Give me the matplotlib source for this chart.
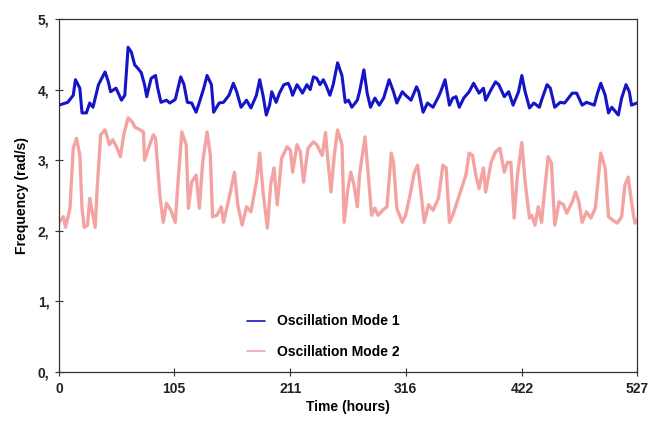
import matplotlib
matplotlib.use("Agg")
import matplotlib.pyplot as plt

# Time stamps (hours) and frequencies (rad/s) of the two oscillation modes
mode1_hours = [0, 8, 13, 15, 19, 21, 25, 28, 31, 36, 42, 45, 47, 52, 57, 60, 63, 66, 69, 72,
               75, 78, 80, 84, 88, 90, 93, 98, 101, 106, 111, 114, 117, 121, 125, 128, 132, 135,
               139, 141, 146, 150, 155, 159, 162, 166, 171, 175, 180, 183, 186, 189, 192, 194,
               198, 201, 205, 209, 211, 213, 217, 220, 222, 226, 229, 232, 235, 238, 241, 244,
               247, 250, 254, 258, 261, 264, 267, 272, 274, 278, 281, 284, 288, 292, 296, 301,
               305, 308, 313, 316, 321, 326, 328, 332, 336, 341, 346, 348, 352, 356, 359, 362,
               365, 369, 374, 378, 383, 387, 389, 394, 398, 401, 406, 410, 414, 419, 422, 425,
               429, 433, 438, 440, 445, 448, 452, 457, 461, 468, 472, 477, 481, 488, 491, 494,
               498, 501, 504, 510, 513, 517, 520, 522, 527]
mode1_freq = [3.78, 3.82, 3.92, 4.14, 4.02, 3.67, 3.67, 3.81, 3.75, 4.07, 4.25, 4.11, 3.97, 4.02,
              3.85, 3.92, 4.60, 4.53, 4.35, 4.30, 4.24, 4.07, 3.90, 4.16, 4.20, 4.02, 3.82, 3.85,
              3.81, 3.86, 4.18, 4.07, 3.82, 3.81, 3.68, 3.82, 4.02, 4.20, 4.07, 3.68, 3.81, 3.82,
              3.92, 4.09, 3.97, 3.75, 3.85, 3.74, 3.92, 4.14, 3.92, 3.64, 3.78, 3.97, 3.82, 3.95,
              4.07, 4.09, 4.02, 3.92, 4.07, 4.00, 3.95, 4.07, 4.00, 4.18, 4.16, 4.07, 4.14, 4.04,
              3.92, 4.07, 4.38, 4.20, 3.82, 3.85, 3.75, 3.85, 3.97, 4.28, 3.95, 3.75, 3.88, 3.78,
              3.88, 4.14, 3.97, 3.81, 3.97, 3.92, 3.85, 4.04, 3.97, 3.68, 3.81, 3.75, 3.90, 3.97,
              4.14, 3.78, 3.88, 3.90, 3.75, 3.88, 3.97, 4.09, 3.95, 4.02, 3.85, 4.00, 4.11, 4.07,
              3.90, 3.97, 3.78, 3.97, 4.20, 3.97, 3.74, 3.81, 3.75, 3.85, 4.07, 4.02, 3.75, 3.82,
              3.81, 3.95, 3.95, 3.78, 3.82, 3.78, 3.95, 4.09, 3.92, 3.67, 3.75, 3.64, 3.88, 4.07,
              3.97, 3.78, 3.81]

mode2_hours = [0, 4, 6, 10, 13, 16, 19, 21, 23, 26, 28, 30, 33, 35, 38, 42, 46, 49, 53, 56, 59,
               63, 67, 69, 74, 77, 78, 82, 86, 88, 92, 95, 98, 102, 106, 109, 112, 116, 118, 121,
               125, 128, 131, 135, 138, 140, 144, 148, 150, 155, 160, 163, 167, 171, 175, 180,
               183, 186, 190, 193, 196, 199, 203, 208, 211, 213, 217, 220, 223, 227, 232, 235,
               240, 243, 245, 248, 251, 254, 258, 260, 263, 266, 269, 272, 274, 279, 282, 285,
               288, 291, 295, 299, 303, 305, 308, 313, 316, 320, 324, 327, 330, 333, 337, 341,
               346, 350, 353, 356, 359, 364, 367, 371, 374, 377, 380, 383, 387, 389, 394, 398,
               402, 406, 409, 412, 415, 418, 422, 425, 429, 431, 434, 437, 440, 443, 446, 449,
               452, 456, 460, 463, 468, 471, 474, 477, 481, 485, 489, 492, 494, 498, 501, 505,
               509, 513, 516, 519, 522, 525, 527]
mode2_freq = [2.12, 2.20, 2.05, 2.32, 3.17, 3.31, 3.07, 2.32, 2.05, 2.08, 2.46, 2.29, 2.05, 2.65,
              3.36, 3.43, 3.22, 3.29, 3.17, 3.05, 3.36, 3.60, 3.54, 3.47, 3.43, 3.40, 3.00, 3.19,
              3.36, 3.31, 2.50, 2.12, 2.39, 2.29, 2.12, 2.79, 3.40, 3.22, 2.32, 2.69, 2.79, 2.32,
              2.97, 3.40, 3.07, 2.20, 2.22, 2.34, 2.12, 2.46, 2.83, 2.37, 2.08, 2.34, 2.27, 2.69,
              3.10, 2.55, 2.04, 2.65, 2.89, 2.37, 3.03, 3.19, 3.14, 2.83, 3.22, 3.12, 2.69, 3.17,
              3.26, 3.22, 3.07, 3.39, 3.03, 2.55, 3.07, 3.43, 3.22, 2.12, 2.55, 2.83, 2.65, 2.34,
              2.79, 3.33, 2.79, 2.22, 2.32, 2.22, 2.29, 2.34, 3.10, 2.97, 2.32, 2.12, 2.22, 2.50,
              2.83, 2.93, 2.55, 2.12, 2.37, 2.29, 2.46, 2.93, 2.89, 2.12, 2.22, 2.46, 2.60, 2.79,
              3.10, 3.07, 2.79, 2.60, 2.89, 2.55, 2.97, 3.12, 3.17, 2.83, 2.97, 2.97, 2.18, 2.79,
              3.25, 2.69, 2.18, 2.22, 2.08, 2.34, 2.12, 2.60, 3.05, 2.96, 2.08, 2.41, 2.37, 2.25,
              2.41, 2.55, 2.41, 2.12, 2.27, 2.18, 2.32, 2.79, 3.10, 2.89, 2.20, 2.15, 2.11, 2.20,
              2.65, 2.76, 2.41, 2.11, 2.15]

x_ticks = [0, 105, 211, 316, 422, 527]
y_ticks = [0, 1, 2, 3, 4, 5]
y_tick_labels = ["0,", "1,", "2,", "3,", "4,", "5,"]

plt.rcParams["font.family"] = ["Liberation Sans", "DejaVu Sans"]

fig = plt.figure(figsize=(6.49, 4.28), dpi=100)
ax = fig.add_axes([0.0909, 0.1308, 0.8906, 0.8248])

ax.plot(mode1_hours, mode1_freq, color="#1414c8", lw=2.2,
        solid_joinstyle="round", solid_capstyle="round", label="Oscillation Mode 1")
ax.plot(mode2_hours, mode2_freq, color="#f4a3a3", lw=2.4,
        solid_joinstyle="round", solid_capstyle="round", label="Oscillation Mode 2")

ax.set_xlim(0, 527)
ax.set_ylim(0, 5)
ax.set_xticks(x_ticks)
ax.set_xticklabels([str(v) for v in x_ticks], fontweight="bold", fontsize=10, color="#222222")
ax.set_yticks(y_ticks)
ax.set_yticklabels(y_tick_labels, fontweight="bold", fontsize=10, color="#222222")
ax.tick_params(direction="inout", length=6, width=0.8, color="#333333", pad=4)

for s in ax.spines.values():
    s.set_color("#333333")
    s.set_linewidth(0.9)

ax.set_xlabel("Time (hours)", fontweight="bold", fontsize=10, labelpad=3)
ax.set_ylabel("Frequency (rad/s)", fontweight="bold", fontsize=10, labelpad=6)

leg = ax.legend(loc="center", bbox_to_anchor=(0.457, 0.10), frameon=False,
                prop={"weight": "bold", "size": 10}, handlelength=1.3,
                handletextpad=0.9, labelspacing=1.2)
for h in leg.get_lines():
    h.set_linewidth(1.2)

fig.savefig("out.png", dpi=100)
